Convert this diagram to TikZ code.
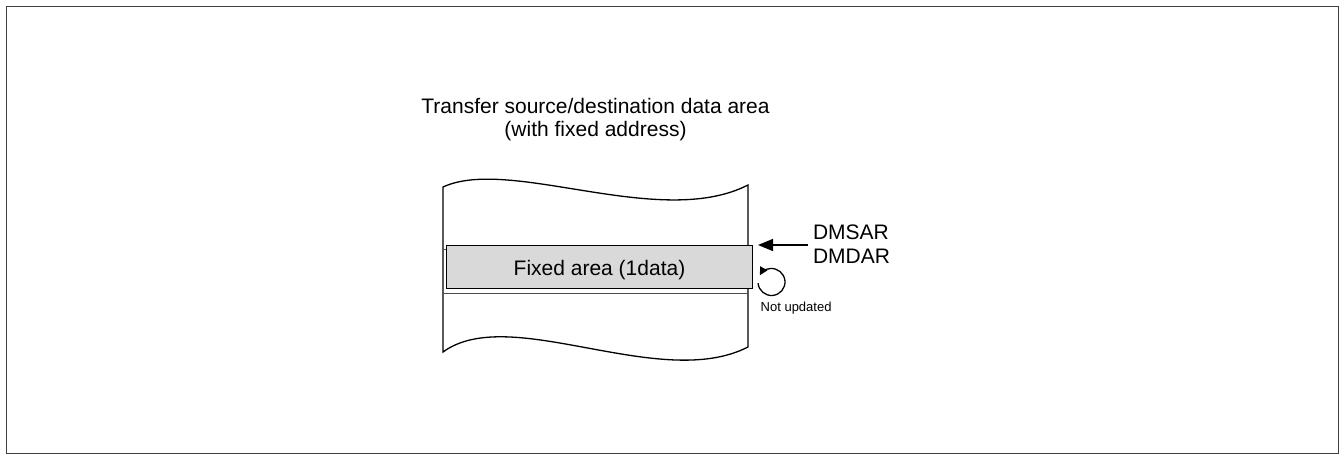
\documentclass[tikz,border=0pt]{standalone}
\usepackage{fontspec}
\setmainfont{Liberation Sans}
\usetikzlibrary{arrows.meta}
\tikzset{
  lbl/.style={inner sep=0pt, outer sep=0pt, font=\fontsize{21}{23}\selectfont},
  small/.style={inner sep=0pt, outer sep=0pt, font=\fontsize{13}{15}\selectfont},
  outline/.style={draw=black, line width=1.3pt},
  fixedbox/.style={draw=black, line width=1.3pt, fill=black!15},
  thinline/.style={draw=black!70, line width=0.8pt},
}
\begin{document}
\begin{tikzpicture}[x=1pt,y=-1pt]
\useasboundingbox (0,0) rectangle (1341,455);
% outer frame
\draw[draw=black!75, line width=1.5pt] (6.7,6.7) rectangle (1338.3,453.3);

% title
\node[lbl, anchor=base] (title1) at (595.5,113) {Transfer source/destination data area};
\node[lbl, anchor=base] (title2) at (595.5,136) {(with fixed address)};

% scroll shape (data area)
\draw[outline] (443,187) .. controls (510,156) and (660,230) .. (748,185)
  -- (748,347) .. controls (660,392) and (510,303) .. (443,352) -- cycle;
\draw[thinline] (443,249) -- (748,249);
\draw[thinline] (443,293) -- (748,293);

% fixed area box
\node[fixedbox, minimum width=306pt, minimum height=43pt, inner sep=0pt, anchor=north west] (fixed) at (446,245) {};
\node[lbl, anchor=base] (fixedtxt) at (599.5,275) {Fixed area (1data)};

% register labels
\node[lbl, anchor=base west] (dmsar) at (813,239) {DMSAR};
\node[lbl, anchor=base west] (dmdar) at (813,263) {DMDAR};
\coordinate (atail) at (808,245);
\coordinate (atip) at (758,245);
\draw[line width=1.3pt, -{Triangle[length=15pt,width=12pt]}] (atail) -- (atip);

% not updated loop
\draw[line width=1.3pt, -{Triangle[length=8pt,width=8pt]}] (771.5,282) ++(175:13.5) arc[start angle=175, end angle=-150, radius=13.5];
\node[small, anchor=base west] (notupd) at (760.7,311.7) {Not updated};
\end{tikzpicture}
\end{document}
